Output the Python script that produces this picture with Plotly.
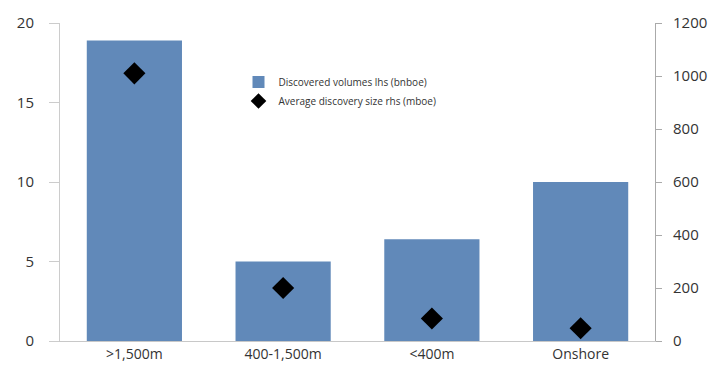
import plotly.graph_objects as go

# Water-depth categories
categories = [">1,500m", "400-1,500m", "<400m", "Onshore"]
# Discovered volumes, left axis (bnboe)
volumes_bnboe = [18.9, 5.0, 6.4, 10.0]
# Average discovery size, right axis (mboe)
avg_size_mboe = [1010, 200, 85, 48]

left_ticks = [0, 5, 10, 15, 20]
right_ticks = [0, 200, 400, 600, 800, 1000, 1200]

BAR_COLOR = "#6189b9"
FONT = "Open Sans, Noto Sans, sans-serif"
TICK_COLOR = "#333333"

fig = go.Figure()
fig.add_trace(go.Bar(
    x=categories, y=volumes_bnboe,
    name="Discovered volumes lhs (bnboe)",
    marker=dict(color=BAR_COLOR, line=dict(width=0)),
    yaxis="y",
))
fig.add_trace(go.Scatter(
    x=categories, y=avg_size_mboe,
    name="Average discovery size rhs (mboe)",
    mode="markers",
    marker=dict(symbol="diamond", size=17, color="#000000"),
    yaxis="y2",
))

fig.update_layout(
    width=719, height=379,
    margin=dict(l=60, r=63, t=15, b=38),
    paper_bgcolor="white", plot_bgcolor="white",
    bargap=0.36,
    font=dict(family=FONT, size=14, color=TICK_COLOR),
    showlegend=True,
    legend=dict(
        x=0.30, y=0.86, xanchor="left", yanchor="top",
        bgcolor="rgba(0,0,0,0)",
        font=dict(size=10, color="#333333"),
        itemsizing="constant",
        tracegroupgap=0,
    ),
    xaxis=dict(
        showline=True, linecolor="#c8c8c8", linewidth=1,
        ticks="", showgrid=False, zeroline=False,
        tickfont=dict(size=14, color=TICK_COLOR),
    ),
    yaxis=dict(
        range=[0, 20], tickvals=left_ticks,
        showline=True, linecolor="#cccccc", linewidth=1,
        ticks="outside", ticklen=10, tickcolor="#cccccc",
        ticklabelstandoff=12,
        showgrid=False, zeroline=False,
        tickfont=dict(size=15, color=TICK_COLOR),
    ),
    yaxis2=dict(
        range=[0, 1200], tickvals=right_ticks,
        overlaying="y", side="right", anchor="x",
        showline=True, linecolor="#aaaaaa", linewidth=1,
        ticks="outside", ticklen=6, tickcolor="#aaaaaa",
        ticklabelstandoff=8,
        showgrid=False, zeroline=False,
        tickfont=dict(size=15, color=TICK_COLOR),
    ),
)

fig.write_html("out.html")
